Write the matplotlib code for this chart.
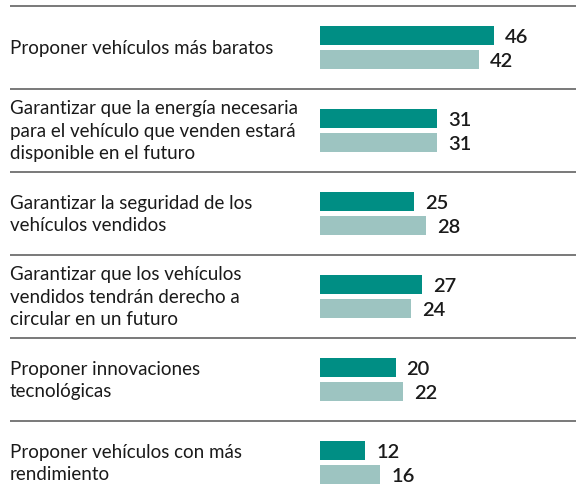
import matplotlib

matplotlib.use("Agg")
import matplotlib.pyplot as plt

categories = [
    "Proponer vehículos más baratos",
    "Garantizar que la energía necesaria\npara el vehículo que venden estará\ndisponible en el futuro",
    "Garantizar la seguridad de los\nvehículos vendidos",
    "Garantizar que los vehículos\nvendidos tendrán derecho a\ncircular en un futuro",
    "Proponer innovaciones\ntecnológicas",
    "Proponer vehículos con más\nrendimiento",
]
series_a = [46, 31, 25, 27, 20, 12]
series_b = [42, 31, 28, 24, 22, 16]

dark = "#008e84"
light = "#9dc4c1"
text_color = "#1a1a1a"

plt.rcParams["font.family"] = ["Lato", "DejaVu Sans"]

fig = plt.figure(figsize=(5.76, 5.01), dpi=100)
ax = fig.add_axes([0, 0, 1, 1])
px = 3.78  # pixels per unit
ax.set_xlim(-320 / px, (576 - 320) / px)
ax.set_ylim((501 - 47.5) / 83, -47.5 / 83)
ax.axis("off")

h = 19 / 83
off = 12 / 83
left = -310 / px
for i, (cat, a, b) in enumerate(zip(categories, series_a, series_b)):
    ax.barh(i - off, a, height=h, color=dark, left=0)
    ax.barh(i + off, b, height=h, color=light, left=0)
    ax.text(a + 11 / px, i - off + 0.025, str(a), va="center", ha="left",
            fontsize=14.5, fontweight="semibold", color=text_color)
    ax.text(b + 11 / px, i + off + 0.025, str(b), va="center", ha="left",
            fontsize=14.5, fontweight="semibold", color=text_color)
    ax.text(left, i + 0.01, cat, va="center", ha="left", fontsize=13.5,
            color=text_color, linespacing=1.4)
    ax.plot([left, 256 / px], [i - 0.5, i - 0.5], color="#6e6e6e",
            linewidth=1.3, solid_capstyle="butt")

fig.savefig("out.png", dpi=100)
